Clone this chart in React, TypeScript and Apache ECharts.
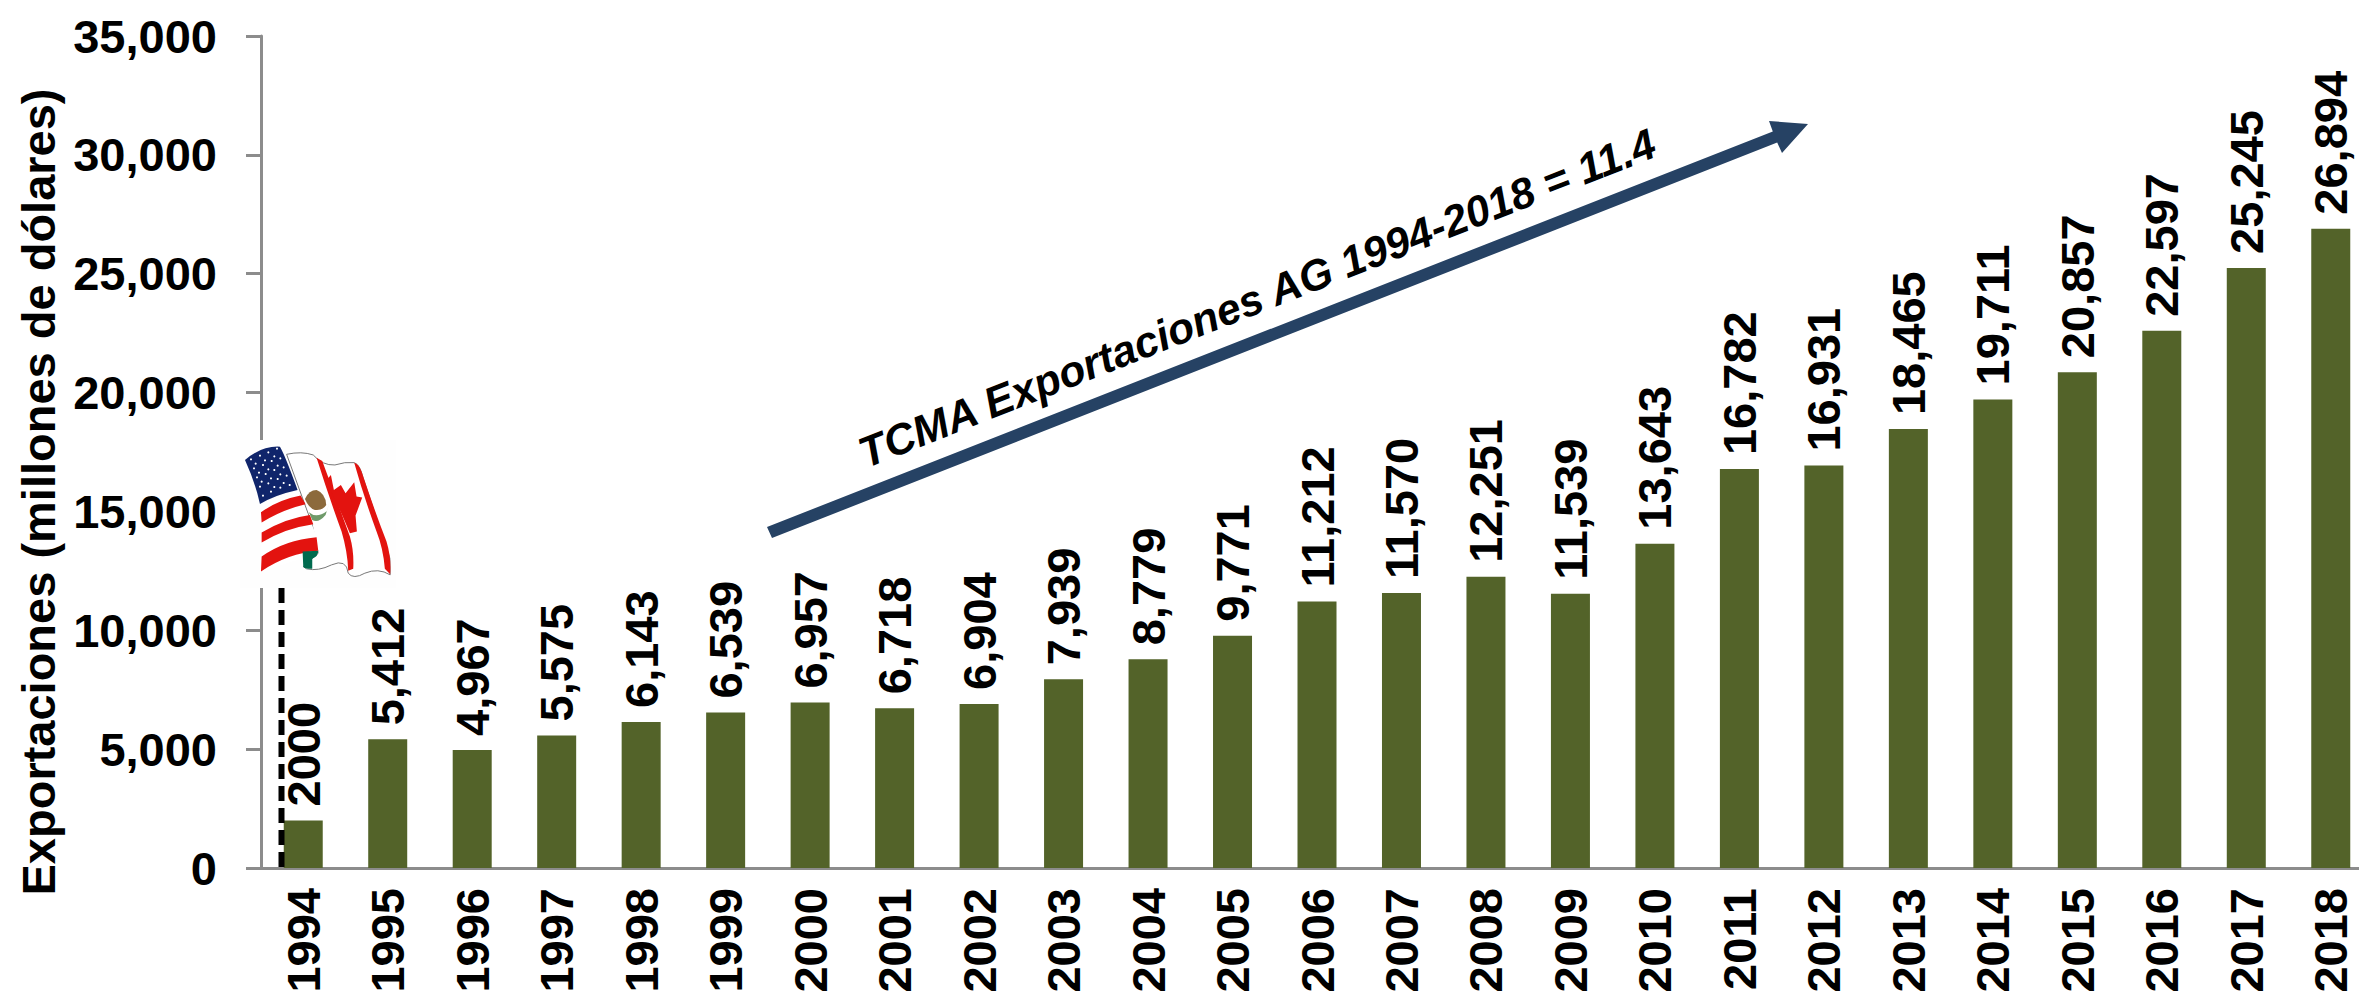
import React, { useEffect, useRef } from "react";
import * as echarts from "echarts";

const years = ["1994","1995","1996","1997","1998","1999","2000","2001","2002","2003","2004","2005","2006","2007","2008","2009","2010","2011","2012","2013","2014","2015","2016","2017","2018"];
const exportsValues = [2000,5412,4967,5575,6143,6539,6957,6718,6904,7939,8779,9771,11212,11570,12251,11539,13643,16782,16931,18465,19711,20857,22597,25245,26894];
const barLabels = ["2000","5,412","4,967","5,575","6,143","6,539","6,957","6,718","6,904","7,939","8,779","9,771","11,212","11,570","12,251","11,539","13,643","16,782","16,931","18,465","19,711","20,857","22,597","25,245","26,894"];
const yAxisTitle = "Exportaciones (millones de dólares)";
const arrowText = "TCMA Exportaciones AG 1994-2018 = 11.4";

const FONT = '"Liberation Sans", Arial, sans-serif';

const flagShapes: [string, string, string?][] = [
  ["flagBody", "M155 88 Q200 78 235 90 Q262 122 300 120 Q330 110 358 113 Q375 118 385 160 L465 400 L466 450 Q430 428 390 445 Q355 465 340 445 Q335 400 290 420 Q250 440 215 432 L205 425 L250 385 L232 300 Z", "#ffffff"],
  ["flagCanada1", "M245 98 L262 108 Q300 210 345 335 Q358 380 355 432 L340 438 Q338 380 320 320 Q280 210 245 98 Z", "#e3130f"],
  ["flagCanada2", "M358 113 Q372 116 380 140 Q420 260 455 350 Q470 400 466 448 L450 432 Q445 370 425 320 Q385 210 358 113 Z", "#e3130f"],
  ["flagLeaf", "M288 150 L297 195 L318 180 L332 205 L358 172 L365 215 L382 218 L362 272 L366 320 L345 325 Q310 240 272 168 Z", "#e3130f"],
  ["flagWhite", "M75 237 L188 195 L250 345 L250 385 L78 440 Z", "#ffffff"],
  ["flagBlue", "M30 105 Q80 62 135 65 Q150 90 188 195 Q120 210 75 237 Q60 170 30 105 Z", "#10256b"],
  ["flagRed1", "M78 262 Q130 225 197 212 L212 238 Q140 255 80 293 Z", "#e3130f"],
  ["flagRed2", "M80 323 Q150 280 225 270 L235 298 Q150 310 80 353 Z", "#e3130f"],
  ["flagRed3", "M80 395 Q150 345 245 337 L250 378 Q160 385 78 440 Z", "#e3130f"],
  ["flagGreen", "M203 380 L250 378 Q250 395 232 402 L232 432 Q205 432 205 425 Z", "#006a4e"],
  ["flagEagle", "M210 222 Q222 195 245 195 Q272 205 274 240 Q262 258 240 255 Q222 250 210 222 Z", "#8c6a3c"],
  ["flagWreath", "M222 262 Q245 282 276 258 L284 232 L272 270 Q250 296 232 285 Z", "#6f9a6a"],
];
flagShapes.forEach(([name, d]) => {
  echarts.graphic.registerShape(name, echarts.graphic.extendPath(d, {}));
});

const starRows: [number, number][] = [
  [48,103],[75,92],[100,82],[126,71],
  [57,130],[84,120],[110,108],[136,100],
  [66,157],[92,147],[118,135],[146,127],
  [75,185],[100,175],[128,162],[155,152],
  [84,212],[108,200],[136,188],[164,180],
  [62,116],[90,106],[118,94],[72,143],[100,133],[128,122],
  [80,170],[108,160],[136,148],[118,186],[146,174],
];

function App() {
  const ref = useRef<HTMLDivElement>(null);
  useEffect(() => {
    const chart = echarts.init(ref.current!, undefined, { renderer: "svg" });
    const flagGraphics: any[] = [
      { type: "rect", x: 240, y: 440, shape: { width: 156, height: 148 }, style: { fill: "#fefefe" }, z: 20 },
      ...flagShapes.map(([name, , fill]) => ({
        type: name, x: 235, y: 425, scaleX: 1 / 3, scaleY: 1 / 3, z: 21,
        style: { fill, stroke: name === "flagBody" ? "#777777" : undefined, lineWidth: name === "flagBody" ? 3 : 0 },
      })),
      ...starRows.map(([cx, cy]) => ({
        type: "circle", x: 235 + cx / 3, y: 425 + cy / 3, shape: { r: 1.05 }, style: { fill: "#ffffff" }, z: 22,
      })),
    ];
    chart.setOption({
      animation: false,
      backgroundColor: "#ffffff",
      textStyle: { fontFamily: FONT },
      grid: { left: 261, top: 36, width: 2112, height: 832, containLabel: false, outerBoundsMode: "none" },
      xAxis: {
        type: "category",
        data: years,
        axisLine: { lineStyle: { color: "#8c8c8c", width: 3 } },
        axisTick: { show: false },
        axisLabel: { rotate: 90, interval: 0, color: "#000", fontFamily: FONT, fontWeight: "bold", fontSize: 47, margin: 20 },
      },
      yAxis: {
        type: "value",
        min: 0,
        max: 35000,
        interval: 5000,
        name: yAxisTitle,
        nameLocation: "middle",
        nameGap: 199,
        nameTextStyle: { color: "#000", fontFamily: FONT, fontWeight: "bold", fontSize: 47, padding: [0, 80, 0, 0] },
        splitLine: { show: false },
        axisLine: { show: true, lineStyle: { color: "#8c8c8c", width: 3 } },
        axisTick: { show: true, length: 15, lineStyle: { color: "#8c8c8c", width: 3 } },
        axisLabel: {
          color: "#000", fontFamily: FONT, fontWeight: "bold", fontSize: 47, margin: 44,
          formatter: (v: number) => v.toLocaleString("en-US"),
        },
      },
      series: [
        {
          type: "bar",
          data: exportsValues,
          barWidth: 39,
          itemStyle: { color: "#536329" },
          label: {
            show: true,
            position: "top",
            rotate: 90,
            align: "left",
            verticalAlign: "middle",
            distance: 14,
            color: "#000",
            fontFamily: FONT,
            fontWeight: "bold",
            fontSize: 47,
            formatter: (p: any) => barLabels[p.dataIndex],
          },
        },
      ],
      graphic: [
        {
          type: "line", z: 19,
          shape: { x1: 281.5, y1: 588, x2: 281.5, y2: 868 },
          style: { stroke: "#000", lineWidth: 6, lineDash: [15, 7] },
        },
        {
          type: "polygon", z: 15,
          shape: { points: [[767,527],[1772.8,131.4],[1769,121],[1808,124],[1782,153],[1777.2,142.6],[772,538]] },
          style: { fill: "#264264" },
        },
        {
          type: "text", z: 16, x: 1257, y: 298, rotation: (21.5 * Math.PI) / 180,
          style: {
            text: arrowText, fill: "#000", align: "center", verticalAlign: "middle",
            font: `italic bold 43px ${FONT}`,
          },
        },
        ...flagGraphics,
      ],
    });
    return () => chart.dispose();
  }, []);
  return <div ref={ref} style={{ position: "fixed", left: 0, top: 0, width: 2359, height: 993 }} />;
}

export default App;
